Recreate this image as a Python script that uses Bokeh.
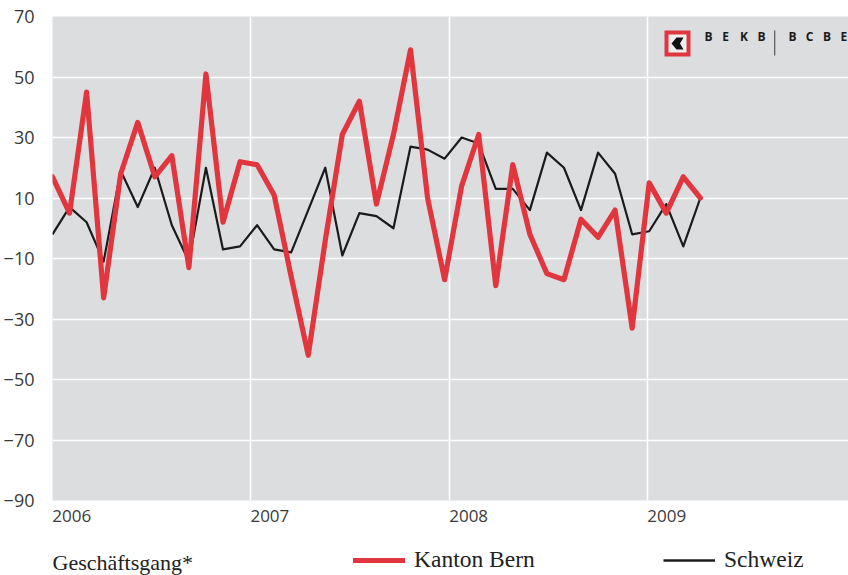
import numpy as np
from bokeh.plotting import figure
from bokeh.layouts import column
from bokeh.models import (FixedTicker, Label, Legend, LegendItem, BoxAnnotation,
                          PolyAnnotation, ColumnDataSource)
from bokeh.embed import file_html
from bokeh.resources import INLINE

# ---------------- data (monthly, Jan 2006 - Mar 2009) ----------------
bern = [17, 5, 45, -23, 18, 35, 17, 24, -13, 51, 2, 22,
        21, 11, -16, -42, -4, 31, 42, 8, 31, 59, 10, -17,
        14, 31, -19, 21, -2, -15, -17, 3, -3, 6, -33, 15,
        5, 17, 10]
schweiz = [-2, 7, 2, -11, 19, 7, 20, 1, -11, 20, -7, -6,
           1, -7, -8, 6, 20, -9, 5, 4, 0, 27, 26, 23,
           30, 28, 13, 13, 6, 25, 20, 6, 25, 18, -2, -1,
           8, -6, 10]
month_index = list(range(len(bern)))

year_labels = ["2006", "2007", "2008", "2009"]
year_positions = [0, 11.62, 23.28, 34.9]       # axis positions of the year lines
label_shift = 1.13                              # labels start at the year line
x_end = 46.69
y_ticks = [-90, -70, -50, -30, -10, 10, 30, 50, 70]

series_names = ["Kanton Bern", "Schweiz"]
source_title = "Geschäftsgang*"

RED = "#e2363f"
BLACK = "#1b1b1b"
BG = "#dcdddf"
TXT = "#3a3a3a"

p = figure(width=848, height=535, x_range=(0, x_end), y_range=(-90, 70),
           output_backend="svg", toolbar_location=None,
           min_border_left=52, min_border_right=0, min_border_top=16,
           min_border_bottom=35)
p.background_fill_color = BG
p.border_fill_color = "white"
p.outline_line_color = None

src = ColumnDataSource(dict(x=month_index, bern=bern, schweiz=schweiz))
r_ch = p.line("x", "schweiz", source=src, line_color=BLACK, line_width=2.2,
              line_join="round")
r_be = p.line("x", "bern", source=src, line_color=RED, line_width=5.2,
              line_join="round", line_cap="round")

# grids
p.xgrid.ticker = FixedTicker(ticks=year_positions)
p.ygrid.ticker = FixedTicker(ticks=y_ticks)
for g in (p.xgrid, p.ygrid):
    g.grid_line_color = "white"
    g.grid_line_width = 1.6

# axes
x_label_pos = [pos + label_shift for pos in year_positions]
p.xaxis.ticker = FixedTicker(ticks=x_label_pos)
p.xaxis.major_label_overrides = {pos: lab for pos, lab in zip(x_label_pos, year_labels)}
p.yaxis.ticker = FixedTicker(ticks=y_ticks)
p.yaxis.major_label_overrides = {t: (str(t).replace("-", "\u2212")) for t in y_ticks}
for ax in (p.xaxis, p.yaxis):
    ax.axis_line_color = None
    ax.major_tick_line_color = None
    ax.minor_tick_line_color = None
    ax.major_label_text_font = "Open Sans"
    ax.major_label_text_color = TXT
p.xaxis.major_label_text_font_size = "17px"
p.yaxis.major_label_text_font_size = "18px"
p.xaxis.major_label_standoff = 3
p.yaxis.major_label_standoff = 12

# ---------------- logo (screen units, relative to plot frame) ----------------
def sbox(l, r, b, t, color):
    return BoxAnnotation(left=l, right=r, bottom=b, top=t,
                         left_units="screen", right_units="screen",
                         top_units="screen", bottom_units="screen",
                         fill_color=color, fill_alpha=1, line_color=None)

p.add_layout(sbox(612, 638, 444, 470, RED))
p.add_layout(sbox(616, 634, 448, 466, "#eeeeee"))
p.add_layout(PolyAnnotation(xs=[619, 624, 631, 627.5, 631, 624],
                            ys=[457, 463, 463, 457, 451, 451],
                            xs_units="screen", ys_units="screen",
                            fill_color="#111111", fill_alpha=1, line_color=None))
p.add_layout(sbox(721.6, 722.8, 445, 470, "#555555"))
logo_left = "BEKB"
logo_right = "BCBE"
for i, ch in enumerate(logo_left):
    p.add_layout(Label(x=652 + 17.7 * i, y=464, x_units="screen", y_units="screen",
                       text=ch, text_font="Open Sans", text_font_style="bold",
                       text_font_size="12px", text_color="#1a1a1a",
                       text_baseline="middle"))
for i, ch in enumerate(logo_right):
    p.add_layout(Label(x=736 + 17.3 * i, y=464, x_units="screen", y_units="screen",
                       text=ch, text_font="Open Sans", text_font_style="bold",
                       text_font_size="12px", text_color="#1a1a1a",
                       text_baseline="middle"))

# ---------------- legend row (separate strip below the plot) ----------------
q = figure(width=848, height=40, x_range=(0, 1), y_range=(0, 1),
           output_backend="svg", toolbar_location=None,
           x_axis_type=None, y_axis_type=None, min_border=0)
q.min_border_left = q.min_border_right = q.min_border_top = q.min_border_bottom = 0
q.outline_line_color = None
q.background_fill_color = "white"
q.border_fill_color = "white"

q.add_layout(Label(x=0, y=13, x_units="screen", y_units="screen",
                   text=source_title, text_font="Liberation Serif",
                   text_font_size="22px", text_color="#222222",
                   text_baseline="middle"))

# legend keys: same styles as the chart lines, holding no visible point
key_be = q.line(x=[np.nan], y=[np.nan], line_color=RED, line_width=5.2, line_cap="round")
key_ch = q.line(x=[np.nan], y=[np.nan], line_color=BLACK, line_width=2.6)

for r, name, xloc in ((key_be, series_names[0], 301), (key_ch, series_names[1], 611)):
    lg = Legend(items=[LegendItem(label=name, renderers=[r])],
                location=(xloc, 0.5), orientation="horizontal",
                glyph_width=52, glyph_height=30, label_height=30,
                label_standoff=9, padding=0, margin=0, spacing=0,
                border_line_color=None, background_fill_alpha=0,
                label_text_font="Liberation Serif", label_text_font_size="23.5px",
                label_text_color="#222222")
    q.add_layout(lg)

layout = column(p, q, spacing=0)
open("out.html", "w").write(file_html(layout, INLINE))
